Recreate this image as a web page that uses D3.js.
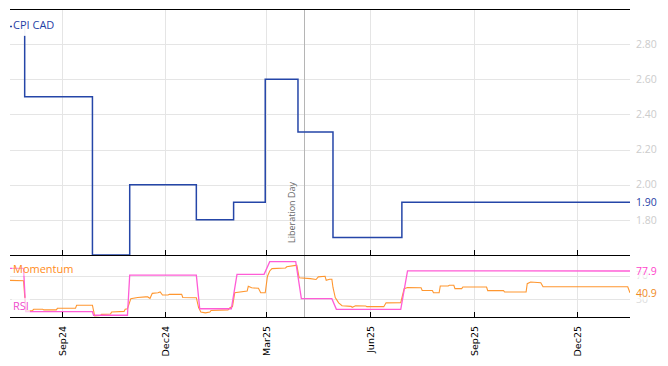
<!DOCTYPE html>
<html><head><meta charset="utf-8">
<script src="https://cdn.jsdelivr.net/npm/d3@7"></script>
<style>
html,body{margin:0;padding:0;background:#fff;}
svg{display:block;}
</style></head>
<body><svg id="chart" width="668" height="366"></svg>
<script>
// ---- data ----
const cpiDates = ["2024-07-16","2024-07-29","2024-09-27","2024-10-30","2024-12-28","2025-01-30","2025-02-27","2025-03-28","2025-04-28","2025-06-28","2026-01-16"];
const cpiValues = [2.9, 2.5, 1.6, 2.0, 1.8, 1.9, 2.6, 2.3, 1.7, 1.9, 1.9];

const rsiDates = ["2024-07-16","2024-07-28","2024-07-30","2024-09-27","2024-09-28","2024-10-28","2024-10-30","2024-12-28","2024-12-31","2025-01-28","2025-02-02","2025-02-26","2025-03-03","2025-03-26","2025-03-31","2025-04-27","2025-05-01","2025-06-27","2025-07-03","2026-01-16"];
const rsiValues = [82.5, 82.5, 9, 9, 3, 3, 71, 71, 14, 14, 72.3, 72.3, 93.7, 93.7, 31, 31, 13, 13, 78, 77.9];

const momDates = ["2024-07-16","2024-07-28","2024-07-30","2024-08-05","2024-08-06","2024-08-14","2024-08-15","2024-08-26","2024-08-27","2024-09-12","2024-09-13","2024-09-27","2024-09-29","2024-10-04","2024-10-05","2024-10-13","2024-10-14","2024-10-25","2024-10-26","2024-10-28","2024-10-31","2024-11-06","2024-11-13","2024-11-15","2024-11-17","2024-11-19","2024-11-24","2024-11-26","2024-11-28","2024-12-03","2024-12-04","2024-12-15","2024-12-16","2024-12-28","2024-12-30","2025-01-01","2025-01-05","2025-01-09","2025-01-10","2025-01-25","2025-01-27","2025-01-29","2025-01-31","2025-02-11","2025-02-12","2025-02-15","2025-02-21","2025-02-23","2025-02-27","2025-03-01","2025-03-03","2025-03-05","2025-03-17","2025-03-18","2025-03-26","2025-03-27","2025-03-29","2025-04-08","2025-04-13","2025-04-15","2025-04-21","2025-04-22","2025-04-25","2025-04-27","2025-04-28","2025-04-30","2025-05-03","2025-05-06","2025-05-14","2025-05-15","2025-05-18","2025-05-27","2025-05-28","2025-06-12","2025-06-14","2025-06-27","2025-06-30","2025-07-03","2025-07-15","2025-07-16","2025-07-25","2025-07-26","2025-07-31","2025-08-01","2025-08-08","2025-08-09","2025-08-13","2025-08-14","2025-08-20","2025-08-21","2025-09-11","2025-09-12","2025-09-26","2025-09-27","2025-10-16","2025-10-17","2025-10-20","2025-10-29","2025-10-31","2026-01-14","2026-01-16"];
const momValues = [62, 61.5, 10, 11, 13, 13, 12, 12, 14.7, 15, 19.8, 19.8, 1.7, 2.5, 4.5, 5, 8.5, 9.5, 13, 14, 31, 33, 34, 34, 31.6, 40, 41, 42.5, 37.3, 37.3, 38.4, 38.4, 33, 32.7, 16, 8.5, 7, 8.5, 11, 12, 16, 17.5, 41, 44, 52, 49.5, 48.6, 41, 41, 69, 78, 82, 83, 85, 87.5, 87.5, 66.6, 65, 63.5, 68, 69, 62, 64, 64, 50, 33, 24, 19, 18, 16.5, 19, 18.6, 17.5, 17.5, 24, 24.2, 48, 50, 49.6, 45, 45, 41, 41, 52.5, 52.5, 53.7, 53.7, 48, 48, 50.8, 50.8, 44.6, 44.6, 42.3, 42.3, 56.4, 59.3, 58, 51.3, 51.3, 40.9];

const xTickDates = ["2024-09-01","2024-12-01","2025-03-01","2025-06-01","2025-09-01","2025-12-01"];
const xTickLabels = ["Sep24","Dec24","Mar25","Jun25","Sep25","Dec25"];
const cpiTicks = [1.8, 2.0, 2.2, 2.4, 2.6, 2.8];
const oscTicks = [30, 70];
const eventDate = "2025-04-02";
const eventLabel = "Liberation Day";

// ---- layout ----
const L = 10, R = 630, T = 9, MB = 255, LB = 317;
const parse = d3.utcParse("%Y-%m-%d");
const svg = d3.select("#chart");

const x = d3.scaleUtc().domain([parse("2024-07-16"), parse("2026-01-16")]).range([L, R]);
const y = d3.scaleLinear().domain([1.6, 3.0]).range([MB, T]);
const y2 = d3.scaleLinear().domain([0, 105]).range([LB, MB]);

const cpi = cpiDates.map((d, i) => ({d: parse(d), v: cpiValues[i]}));
const rsi = rsiDates.map((d, i) => ({d: parse(d), v: rsiValues[i]}));
const mom = momDates.map((d, i) => ({d: parse(d), v: momValues[i]}));
const tickD = xTickDates.map(parse);

const grid = "#e5e5e5";
const FONT = "'Open Sans', sans-serif";

// gridlines
const g = svg.append("g");
g.selectAll(".vg").data(tickD).join("line")
  .attr("x1", d => Math.round(x(d)) - 0.5).attr("x2", d => Math.round(x(d)) - 0.5)
  .attr("y1", T).attr("y2", LB).attr("stroke", grid);
g.selectAll(".hg").data(cpiTicks).join("line")
  .attr("x1", L).attr("x2", R)
  .attr("y1", d => Math.round(y(d)) + 0.5).attr("y2", d => Math.round(y(d)) + 0.5).attr("stroke", grid);
g.selectAll(".hg2").data(oscTicks).join("line")
  .attr("x1", L).attr("x2", R)
  .attr("y1", d => Math.round(y2(d)) + 0.5).attr("y2", d => Math.round(y2(d)) + 0.5).attr("stroke", grid);

// right tick labels (gray)
svg.append("g").selectAll("text").data(cpiTicks).join("text")
  .attr("x", 636).attr("y", d => y(d)).attr("dy", "0.35em")
  .attr("font-family", FONT).attr("font-size", 10.5).attr("fill", "#cccccc")
  .text(d => d.toFixed(2));
svg.append("g").selectAll("text").data(oscTicks).join("text")
  .attr("x", 636).attr("y", d => y2(d)).attr("dy", "0.35em")
  .attr("font-family", FONT).attr("font-size", 10.5).attr("fill", "#dddddd")
  .text(d => d);

// event line
const ex = Math.round(x(parse(eventDate))) + 0.5;
svg.append("line").attr("x1", ex).attr("x2", ex).attr("y1", T).attr("y2", LB)
  .attr("stroke", "#b5b5b5").attr("stroke-width", 1);
svg.append("text").attr("transform", `translate(${ex - 10},${MB - 12}) rotate(-90)`)
  .attr("font-family", FONT).attr("font-size", 9).attr("fill", "#666")
  .text(eventLabel);

// clips
const defs = svg.append("defs");
defs.append("clipPath").attr("id", "clipLow").append("rect")
  .attr("x", L).attr("y", MB).attr("width", R - L).attr("height", LB - MB);
defs.append("clipPath").attr("id", "clipMain").append("rect")
  .attr("x", L).attr("y", T).attr("width", R - L).attr("height", MB - T + 2);

// lines
const lineOsc = d3.line().x(d => x(d.d)).y(d => y2(d.v));
svg.append("path").datum(mom).attr("clip-path", "url(#clipLow)")
  .attr("d", lineOsc).attr("fill", "none").attr("stroke", "#ff8c1a").attr("stroke-width", 1.1).attr("opacity", 0.9);
svg.append("path").datum(rsi).attr("clip-path", "url(#clipLow)")
  .attr("d", lineOsc).attr("fill", "none").attr("stroke", "#ff5cd6").attr("stroke-width", 1.3);

const lineCpi = d3.line().x(d => x(d.d)).y(d => y(d.v)).curve(d3.curveStepAfter);
svg.append("path").datum(cpi).attr("clip-path", "url(#clipMain)")
  .attr("d", lineCpi).attr("fill", "none").attr("stroke", "#2546a8").attr("stroke-width", 1.5);

// axes lines
svg.append("line").attr("x1", L).attr("x2", R).attr("y1", T + 0.5).attr("y2", T + 0.5).attr("stroke", "#000");
svg.append("line").attr("x1", L).attr("x2", R).attr("y1", MB + 0.5).attr("y2", MB + 0.5).attr("stroke", "#000");
svg.append("line").attr("x1", L).attr("x2", R).attr("y1", LB + 0.5).attr("y2", LB + 0.5).attr("stroke", "#000");
svg.append("g").selectAll("line").data(tickD).join("line")
  .attr("x1", d => Math.round(x(d)) - 0.5).attr("x2", d => Math.round(x(d)) - 0.5)
  .attr("y1", MB - 5).attr("y2", MB).attr("stroke", "#000");
svg.append("g").selectAll("line").data(tickD).join("line")
  .attr("x1", d => Math.round(x(d)) - 0.5).attr("x2", d => Math.round(x(d)) - 0.5)
  .attr("y1", LB - 5).attr("y2", LB).attr("stroke", "#000");

// x tick labels
svg.append("g").selectAll("text").data(tickD).join("text")
  .attr("transform", d => `translate(${Math.round(x(d)) - 0.5},${326}) rotate(-90)`)
  .attr("text-anchor", "end").attr("dy", "0.35em")
  .attr("font-family", "'DejaVu Sans', sans-serif").attr("font-size", 9.5).attr("fill", "#000")
  .text((d, i) => xTickLabels[i]);

// labels with soft background
function label(txt, xx, yy, color, size, bgOp, padB) {
  const t = svg.append("text").attr("x", xx).attr("y", yy).attr("dy", "0.35em")
    .attr("font-family", FONT).attr("font-size", size).attr("fill", color).text(txt);
  const b = t.node().getBBox();
  svg.insert("rect", () => t.node()).attr("x", b.x - 1).attr("y", b.y).attr("width", b.width + 2).attr("height", b.height + (padB || 0))
    .attr("fill", "#fff").attr("opacity", bgOp);
}
label("CPI CAD", 13, 25, "#1f3fa6", 11, 0.95, 4);
label("Momentum", 13, 269, "#ff8c1a", 11, 0.4);
label("RSI", 13, 306, "#f04ccc", 11, 0.7);

// last value labels
label(d3.format(".2f")(cpiValues[cpiValues.length - 1]), 636, y(cpiValues[cpiValues.length - 1]), "#1f3fa6", 10.5, 0.9);
label(d3.format(".1f")(rsiValues[rsiValues.length - 1]), 636, y2(rsiValues[rsiValues.length - 1]), "#ff44cc", 10.5, 0.6);
label(d3.format(".1f")(momValues[momValues.length - 1]), 636, y2(momValues[momValues.length - 1]), "#f08a24", 10.5, 0.6);
</script></body></html>
